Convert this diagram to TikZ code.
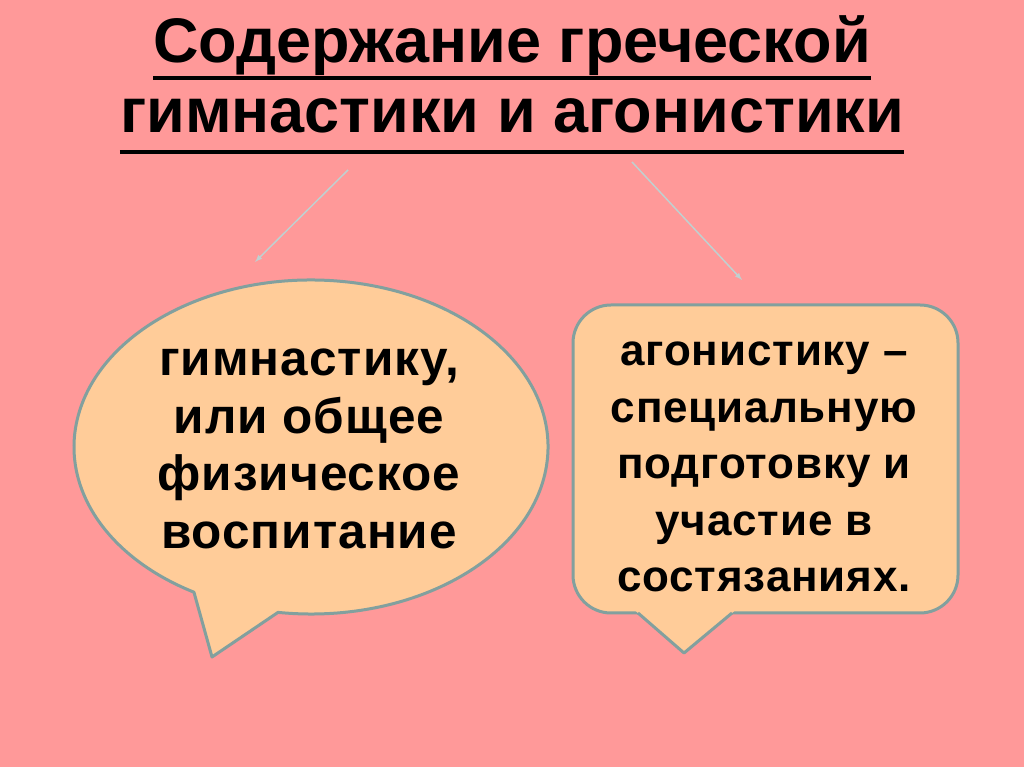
\documentclass[tikz,border=0pt]{standalone}
\usepackage{fontspec}
\setmainfont{Liberation Sans}
\newfontfamily\bubblefont[LetterSpace=2]{Liberation Sans}
\usetikzlibrary{arrows}
\definecolor{bgpink}{RGB}{255,153,153}
\definecolor{peach}{RGB}{255,204,153}
\definecolor{rim}{RGB}{130,160,158}
\definecolor{raygray}{RGB}{192,208,208}
\tikzset{t/.style={font=\fontsize{63}{63}\selectfont\bfseries, inner sep=0pt, anchor=base}}
\tikzset{b/.style={font=\bubblefont\fontsize{49.5}{57.5}\selectfont\bfseries, align=center, inner sep=0pt}}
\tikzset{c/.style={font=\bubblefont\fontsize{44}{56.5}\selectfont\bfseries, align=center, inner sep=0pt}}
\tikzset{ul/.style={line width=4pt}}
\tikzset{bubble/.style={fill=peach, draw=rim, line width=3pt, line join=round}}
\tikzset{ray/.style={draw=raygray, line width=1.5pt, -latex}}

\begin{document}
\begin{tikzpicture}[x=1pt,y=1pt]
  \useasboundingbox (0,0) rectangle (1024,767);
  \fill[bgpink] (0,0) rectangle (1024,767);
  % title
  \node[t] (T1) at (512,704) {Содержание греческой};
  \node[t] (T2) at (512,634) {гимнастики и агонистики};
  \draw[ul] ([yshift=-15pt]T1.base west) -- ([yshift=-15pt]T1.base east);
  \draw[ul] ([yshift=-19pt]T2.base west) -- ([yshift=-19pt]T2.base east);
  % arrows
  \coordinate (aL1) at (348,597);
  \coordinate (aL2) at (255,505);
  \coordinate (aR1) at (632,605);
  \coordinate (aR2) at (742,487);
  \draw[ray] (aL1) -- (aL2);
  \draw[ray] (aR1) -- (aR2);
  % left bubble
  \filldraw[bubble] (311,320) ++(262:237pt and 167pt)
    arc[start angle=262, end angle=600.4, x radius=237pt, y radius=167pt]
    -- (212,110) -- cycle;
  % right bubble
  \filldraw[bubble, rounded corners=38pt] (573,154) rectangle (958,462);
  \fill[peach] (634.5,157) -- (684,114) -- (735.6,157) -- cycle;
  \draw[bubble, fill=none] (638,154) -- (684,114) -- (732,154);
  % texts
  \node[b] (gym) at (309,318) {гимнастику,\\или общее\\физическое\\воспитание};
  \node[c] (agon) at (764,300) {агонистику –\\специальную\\подготовку и\\участие в\\состязаниях.};
\end{tikzpicture}
\end{document}
